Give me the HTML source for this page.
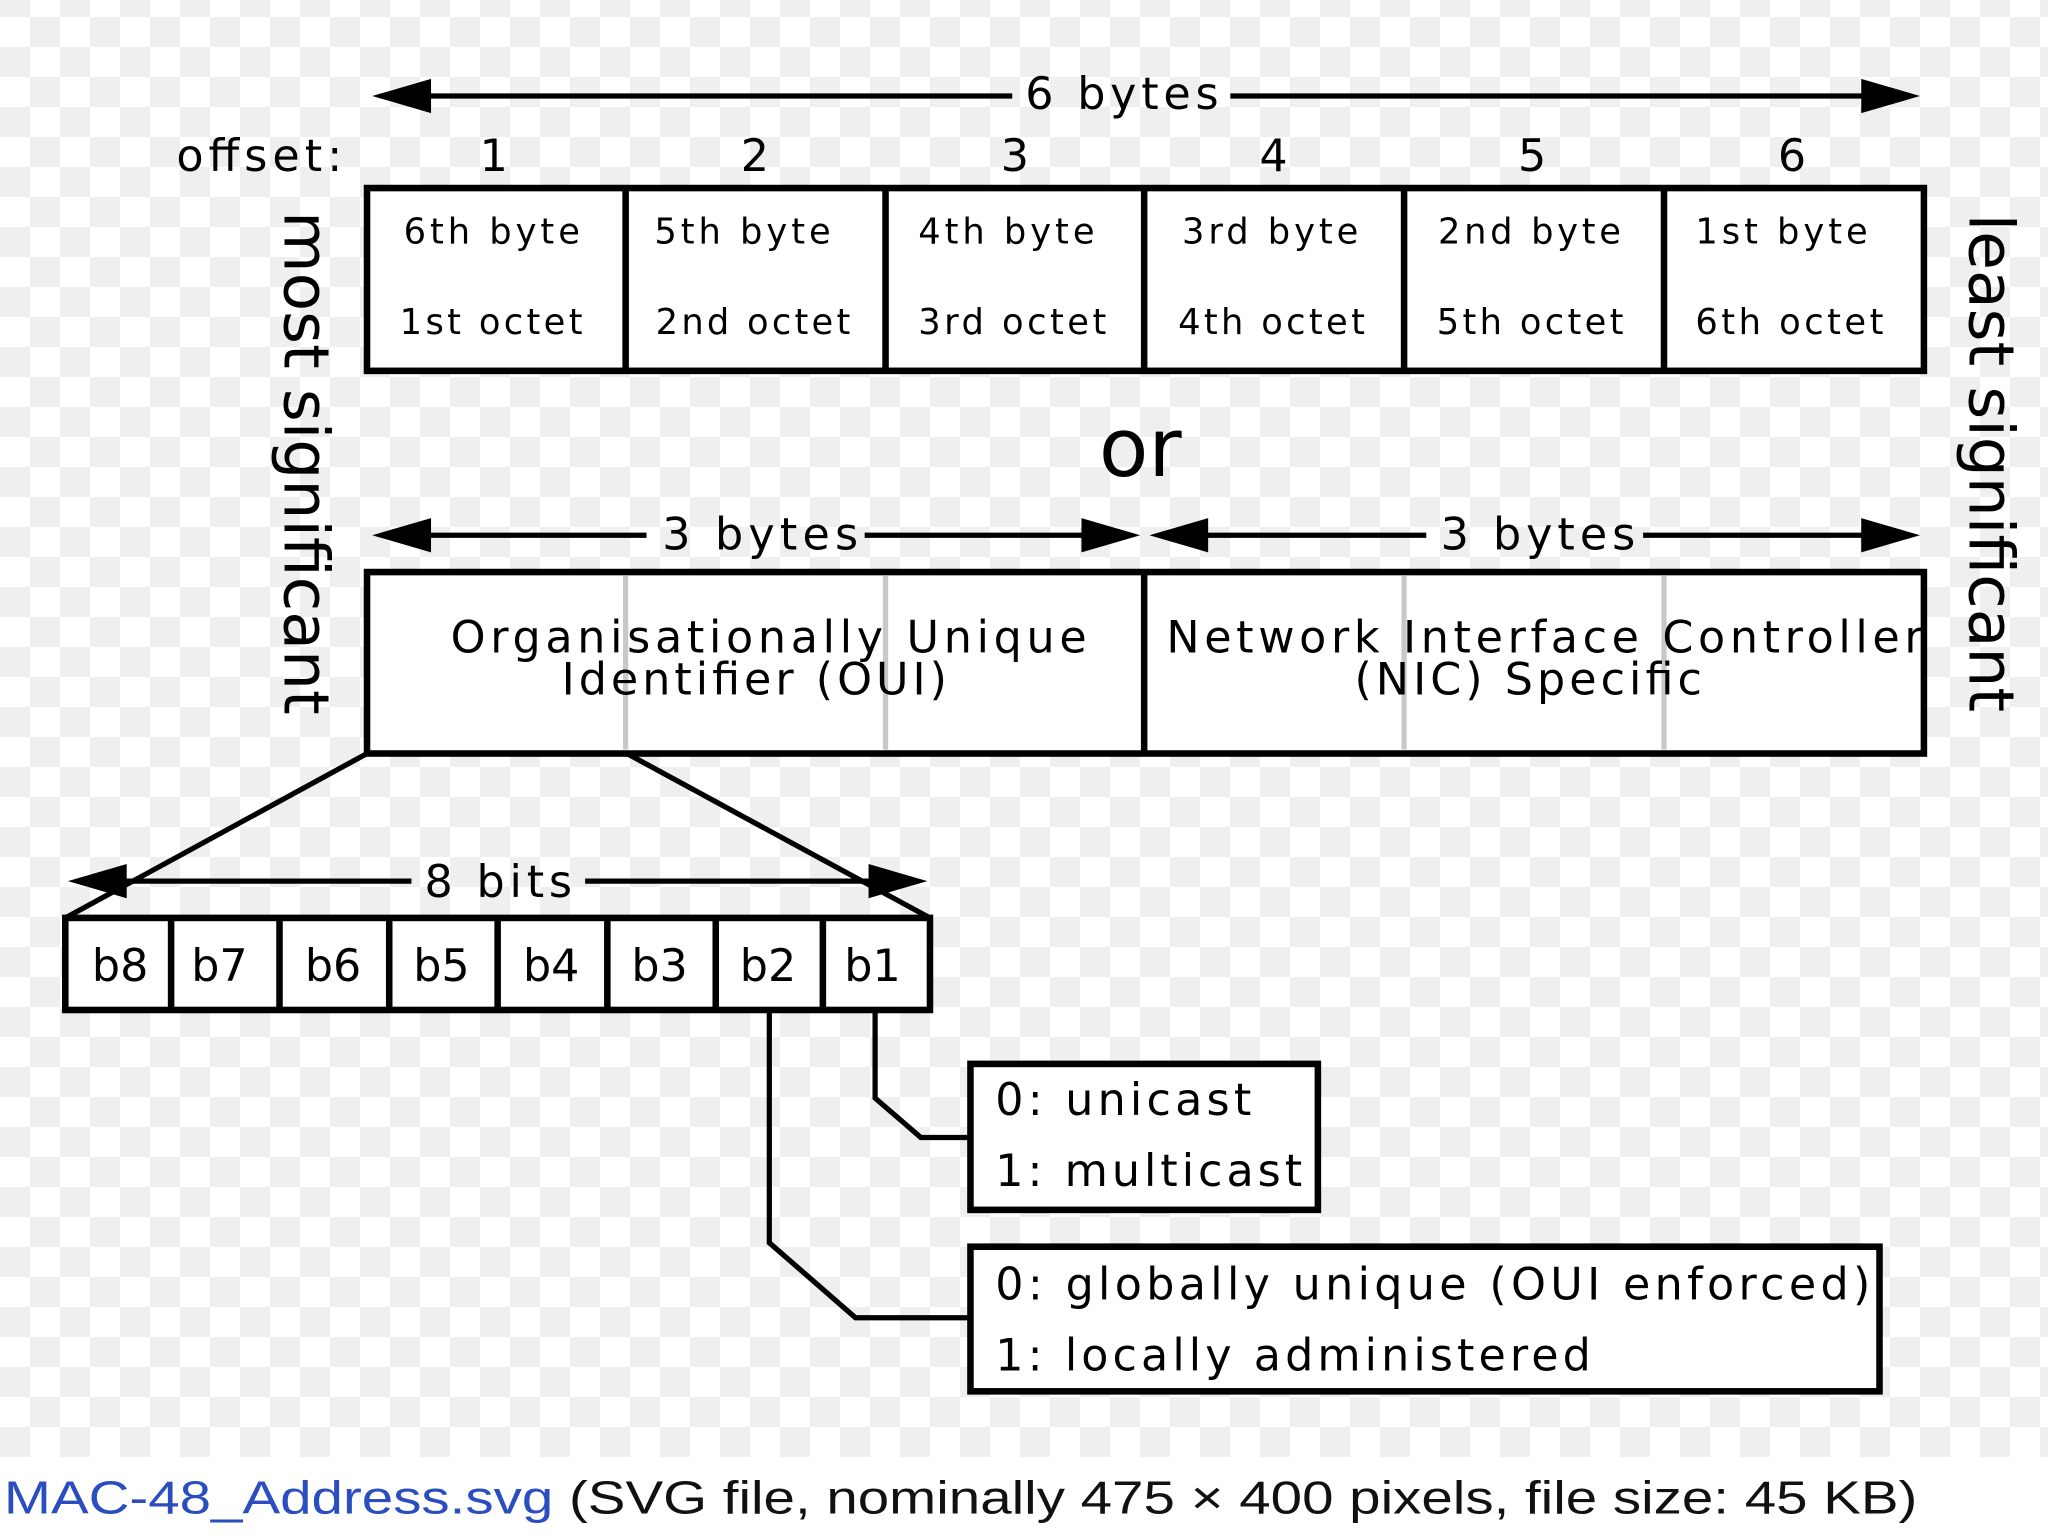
<!DOCTYPE html>
<html><head><meta charset="utf-8"><style>
html,body{margin:0;padding:0;background:#fff;}
#wrap{position:relative;width:2048px;height:1536px;overflow:hidden;background:#fff;}
#checker{position:absolute;left:0;top:0;width:2048px;height:1457px;
background-color:#fff;
background-image:conic-gradient(#efefef 25%,#fff 0 50%,#efefef 0 75%,#fff 0);
background-size:60px 60px;background-position:0 17px;}
svg{position:absolute;left:0;top:0;}
</style></head><body><div id="wrap"><div id="checker"></div>
<svg width="2048" height="1536" viewBox="0 0 1568 1168" preserveAspectRatio="none" font-family="'DejaVu Sans', sans-serif">
<g stroke="#000" stroke-width="4" fill="none">
<line x1="320" y1="73" x2="775" y2="73"/><line x1="942" y1="73" x2="1430" y2="73"/>
<line x1="320" y1="407" x2="495" y2="407"/><line x1="662" y1="407" x2="835" y2="407"/>
<line x1="918" y1="407" x2="1092" y2="407"/><line x1="1258" y1="407" x2="1430" y2="407"/>
<line x1="90" y1="670" x2="315" y2="670"/><line x1="448" y1="670" x2="672" y2="670"/>
</g>
<g fill="#000">
<polygon points="285,73 330,60 330,86"/><polygon points="1470,73 1425,60 1425,86"/>
<polygon points="285,407 330,394 330,420"/><polygon points="873,407 828,394 828,420"/>
<polygon points="880,407 925,394 925,420"/><polygon points="1470,407 1425,394 1425,420"/>
<polygon points="52,670 97,657 97,683"/><polygon points="710,670 665,657 665,683"/>
</g>
<g fill="#fff" stroke="#000" stroke-width="5">
<rect x="281" y="143" width="1192" height="139"/>
<rect x="281" y="435" width="1192" height="138"/>
<rect x="50" y="698" width="662" height="70"/>
<rect x="743" y="809" width="266" height="111"/>
<rect x="743" y="948" width="696" height="110"/>
</g>
<g stroke="#000" stroke-width="5">
<line x1="479" y1="143" x2="479" y2="282"/><line x1="678" y1="143" x2="678" y2="282"/>
<line x1="876" y1="143" x2="876" y2="282"/><line x1="1075" y1="143" x2="1075" y2="282"/>
<line x1="1274" y1="143" x2="1274" y2="282"/>
<line x1="876" y1="435" x2="876" y2="573"/>
<line x1="131" y1="698" x2="131" y2="768"/><line x1="214" y1="698" x2="214" y2="768"/>
<line x1="298" y1="698" x2="298" y2="768"/><line x1="381" y1="698" x2="381" y2="768"/>
<line x1="465" y1="698" x2="465" y2="768"/><line x1="548" y1="698" x2="548" y2="768"/>
<line x1="630" y1="698" x2="630" y2="768"/>
</g>
<g stroke="#c8c8c8" stroke-width="4">
<line x1="479" y1="438" x2="479" y2="570"/><line x1="678" y1="438" x2="678" y2="570"/>
<line x1="1075" y1="438" x2="1075" y2="570"/><line x1="1274" y1="438" x2="1274" y2="570"/>
</g>
<g stroke="#000" stroke-width="4" fill="none">
<line x1="281" y1="573" x2="50" y2="698"/><line x1="480" y1="573" x2="712" y2="698"/>
<polyline points="670,768 670,835 705,865 743,865"/>
<polyline points="589,768 589,945 655,1002 743,1002"/>
</g>
<g fill="#000" font-size="34" lengthAdjust="spacingAndGlyphs">
<text x="785" y="83" textLength="148">6 bytes</text>
<text x="135" y="130" textLength="127">offset:</text>
</g>
<g fill="#000" font-size="34" text-anchor="middle">
<text x="378" y="130">1</text><text x="578" y="130">2</text><text x="777" y="130">3</text>
<text x="975" y="130">4</text><text x="1173" y="130">5</text><text x="1372" y="130">6</text>
</g>
<g fill="#000" font-size="27" lengthAdjust="spacingAndGlyphs">
<text x="309" y="185" textLength="135">6th byte</text><text x="501" y="185" textLength="135">5th byte</text><text x="703" y="185" textLength="135">4th byte</text>
<text x="905" y="185" textLength="135">3rd byte</text><text x="1101" y="185" textLength="140">2nd byte</text><text x="1298" y="185" textLength="132">1st byte</text>
<text x="306" y="254" textLength="140">1st octet</text><text x="502" y="254" textLength="149">2nd octet</text><text x="703" y="254" textLength="144">3rd octet</text>
<text x="902" y="254" textLength="143">4th octet</text><text x="1100" y="254" textLength="143">5th octet</text><text x="1298" y="254" textLength="144">6th octet</text>
</g>
<text x="873" y="362" font-size="62" text-anchor="middle">or</text>
<g fill="#000" font-size="34" lengthAdjust="spacingAndGlyphs">
<text x="507" y="418" textLength="150">3 bytes</text><text x="1103" y="418" textLength="149">3 bytes</text>
<text x="345" y="496" textLength="487">Organisationally Unique</text>
<text x="430" y="528" textLength="295">Identifier (OUI)</text>
<text x="893" y="496" textLength="579">Network Interface Controller</text>
<text x="1037" y="528" textLength="266">(NIC) Specific</text>
<text x="325" y="682" textLength="113">8 bits</text>
</g>
<g fill="#000" font-size="34" text-anchor="middle">
<text x="92" y="746">b8</text><text x="168" y="746">b7</text><text x="255" y="746">b6</text>
<text x="338" y="746">b5</text><text x="422" y="746">b4</text><text x="505" y="746">b3</text>
<text x="588" y="746">b2</text><text x="668" y="746">b1</text>
</g>
<g fill="#000" font-size="34" lengthAdjust="spacingAndGlyphs">
<text x="762" y="848" textLength="196">0: unicast</text>
<text x="762" y="902" textLength="235">1: multicast</text>
<text x="762" y="988" textLength="670">0: globally unique (OUI enforced)</text>
<text x="762" y="1042" textLength="456">1: locally administered</text>
</g>
<text transform="translate(218,352) rotate(90)" font-size="48" text-anchor="middle" fill="#000">most significant</text>
<text transform="translate(1508,352) rotate(90)" font-size="48" text-anchor="middle" fill="#000">least significant</text>
<text x="3" y="1151" font-family="'Liberation Sans', sans-serif" font-size="35" textLength="1465" lengthAdjust="spacingAndGlyphs"><tspan fill="#2a4dbf">MAC-48_Address.svg</tspan><tspan fill="#111"> (SVG file, nominally 475 × 400 pixels, file size: 45 KB)</tspan></text>
</svg></div></body></html>
